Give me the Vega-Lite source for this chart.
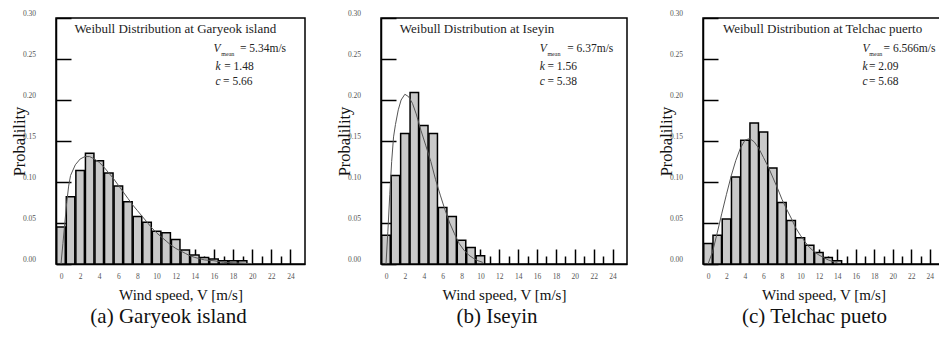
{
  "$schema": "https://vega.github.io/schema/vega-lite/v6.json",
  "background": "white",
  "padding": {"left": 10, "top": 8, "right": 0, "bottom": 0},
  "spacing": 29,
  "config": {
    "view": {"stroke": "black", "strokeWidth": 1.5},
    "font": "Liberation Serif",
    "axis": {
      "grid": false,
      "domainColor": "black",
      "domainWidth": 1.5,
      "tickColor": "black",
      "tickWidth": 1.5,
      "labelFont": "Liberation Serif",
      "labelFontSize": 7.5,
      "labelColor": "#555",
      "labelOverlap": false,
      "labelFlush": false,
      "labelBound": false,
      "titleFont": "Liberation Serif",
      "titleFontWeight": "normal",
      "titleColor": "#111",
      "zindex": 1
    },
    "title": {"font": "Liberation Serif", "fontSize": 21, "fontWeight": "normal", "color": "#111"}
  },
  "datasets": {
    "bars_a": [
      {"speed": 0, "probability": 0.045}, {"speed": 1, "probability": 0.082}, {"speed": 2, "probability": 0.114},
      {"speed": 3, "probability": 0.135}, {"speed": 4, "probability": 0.126}, {"speed": 5, "probability": 0.111},
      {"speed": 6, "probability": 0.095}, {"speed": 7, "probability": 0.076}, {"speed": 8, "probability": 0.058},
      {"speed": 9, "probability": 0.051}, {"speed": 10, "probability": 0.040}, {"speed": 11, "probability": 0.038},
      {"speed": 12, "probability": 0.030}, {"speed": 13, "probability": 0.017}, {"speed": 14, "probability": 0.011},
      {"speed": 15, "probability": 0.008}, {"speed": 16, "probability": 0.006}, {"speed": 17, "probability": 0.004},
      {"speed": 18, "probability": 0.004}, {"speed": 19, "probability": 0.004}
    ],
    "curve_a": [
      {"speed": 0, "probability": 0}, {"speed": 0.2, "probability": 0.025}, {"speed": 0.4, "probability": 0.05},
      {"speed": 0.6, "probability": 0.075}, {"speed": 0.8, "probability": 0.095}, {"speed": 1, "probability": 0.108},
      {"speed": 1.5, "probability": 0.121}, {"speed": 2, "probability": 0.128}, {"speed": 2.5, "probability": 0.131},
      {"speed": 3, "probability": 0.131}, {"speed": 3.5, "probability": 0.128}, {"speed": 4, "probability": 0.124},
      {"speed": 4.5, "probability": 0.118}, {"speed": 5, "probability": 0.111}, {"speed": 5.5, "probability": 0.104},
      {"speed": 6, "probability": 0.096}, {"speed": 6.5, "probability": 0.088}, {"speed": 7, "probability": 0.080},
      {"speed": 7.5, "probability": 0.072}, {"speed": 8, "probability": 0.065}, {"speed": 8.5, "probability": 0.058},
      {"speed": 9, "probability": 0.051}, {"speed": 9.5, "probability": 0.044}, {"speed": 10, "probability": 0.038},
      {"speed": 10.5, "probability": 0.033}, {"speed": 11, "probability": 0.028}, {"speed": 11.5, "probability": 0.023},
      {"speed": 12, "probability": 0.019}, {"speed": 12.5, "probability": 0.016}, {"speed": 13, "probability": 0.013},
      {"speed": 13.5, "probability": 0.010}, {"speed": 14, "probability": 0.008}, {"speed": 15, "probability": 0.005},
      {"speed": 16, "probability": 0.004}, {"speed": 17, "probability": 0.002}, {"speed": 18, "probability": 0.0015},
      {"speed": 19, "probability": 0.001}, {"speed": 20, "probability": 0.0005}
    ],
    "bars_b": [
      {"speed": 0, "probability": 0.035}, {"speed": 1, "probability": 0.108}, {"speed": 2, "probability": 0.159},
      {"speed": 3, "probability": 0.209}, {"speed": 4, "probability": 0.169}, {"speed": 5, "probability": 0.159},
      {"speed": 6, "probability": 0.069}, {"speed": 7, "probability": 0.058}, {"speed": 8, "probability": 0.029},
      {"speed": 9, "probability": 0.020}, {"speed": 10, "probability": 0.010}
    ],
    "curve_b": [
      {"speed": 0, "probability": 0}, {"speed": 0.2, "probability": 0.04}, {"speed": 0.4, "probability": 0.085},
      {"speed": 0.6, "probability": 0.125}, {"speed": 0.8, "probability": 0.155}, {"speed": 1, "probability": 0.17},
      {"speed": 1.3, "probability": 0.188}, {"speed": 1.6, "probability": 0.2}, {"speed": 2, "probability": 0.207},
      {"speed": 2.4, "probability": 0.204}, {"speed": 2.8, "probability": 0.196}, {"speed": 3.2, "probability": 0.183},
      {"speed": 3.7, "probability": 0.163}, {"speed": 4.2, "probability": 0.145}, {"speed": 4.75, "probability": 0.125},
      {"speed": 5.25, "probability": 0.103}, {"speed": 5.75, "probability": 0.084}, {"speed": 6.25, "probability": 0.066},
      {"speed": 6.75, "probability": 0.05}, {"speed": 7.25, "probability": 0.037}, {"speed": 7.75, "probability": 0.025},
      {"speed": 8.25, "probability": 0.017}, {"speed": 8.75, "probability": 0.011}, {"speed": 9.25, "probability": 0.007},
      {"speed": 9.75, "probability": 0.004}, {"speed": 10.25, "probability": 0.002}
    ],
    "bars_c": [
      {"speed": 0, "probability": 0.025}, {"speed": 1, "probability": 0.035}, {"speed": 2, "probability": 0.055},
      {"speed": 3, "probability": 0.106}, {"speed": 4, "probability": 0.151}, {"speed": 5, "probability": 0.172},
      {"speed": 6, "probability": 0.161}, {"speed": 7, "probability": 0.117}, {"speed": 8, "probability": 0.075},
      {"speed": 9, "probability": 0.053}, {"speed": 10, "probability": 0.032}, {"speed": 11, "probability": 0.023},
      {"speed": 12, "probability": 0.014}, {"speed": 13, "probability": 0.008}, {"speed": 14, "probability": 0.004}
    ],
    "curve_c": [
      {"speed": 0, "probability": 0}, {"speed": 0.5, "probability": 0.015}, {"speed": 1, "probability": 0.038},
      {"speed": 1.5, "probability": 0.062}, {"speed": 2, "probability": 0.085}, {"speed": 2.5, "probability": 0.107},
      {"speed": 3, "probability": 0.126}, {"speed": 3.5, "probability": 0.141}, {"speed": 4, "probability": 0.151},
      {"speed": 4.5, "probability": 0.153}, {"speed": 5, "probability": 0.149}, {"speed": 5.5, "probability": 0.141},
      {"speed": 6, "probability": 0.13}, {"speed": 6.5, "probability": 0.119}, {"speed": 7, "probability": 0.106},
      {"speed": 7.5, "probability": 0.093}, {"speed": 8, "probability": 0.079}, {"speed": 8.5, "probability": 0.067},
      {"speed": 9, "probability": 0.056}, {"speed": 9.5, "probability": 0.044}, {"speed": 10, "probability": 0.035},
      {"speed": 10.5, "probability": 0.027}, {"speed": 11, "probability": 0.02}, {"speed": 11.5, "probability": 0.015},
      {"speed": 12, "probability": 0.011}, {"speed": 12.5, "probability": 0.008}, {"speed": 13, "probability": 0.005},
      {"speed": 13.5, "probability": 0.003}, {"speed": 14, "probability": 0.002}
    ]
  },
  "hconcat": [
    {
      "width": 249, "height": 246,
      "resolve": {"axis": {"x": "independent"}},
      "title": {"text": "(a) Garyeok island", "orient": "bottom", "frame": "group", "dx": -12, "offset": 3},
      "layer": [
        {
          "data": {"name": "bars_a"},
          "mark": {"type": "bar", "orient": "vertical", "size": 8.5, "fill": "#c9c9c9", "stroke": "black", "strokeWidth": 1.5, "clip": true},
          "encoding": {
            "x": {"field": "speed", "type": "quantitative", "scale": {"domain": [0, 25], "nice": false, "zero": false},
              "axis": {"title": "Wind speed, V [m/s]", "titleFontSize": 15, "orient": "bottom",
                "values": [0,2,4,6,8,10,12,14,16,18,20,22,24], "tickSize": -15,
                "labelPadding": 23, "titlePadding": 8}},
            "y": {"field": "probability", "type": "quantitative", "scale": {"domain": [0, 0.3], "nice": false},
              "axis": {"title": "Probalility", "titleFontSize": 16.5,
                "values": [0,0.025,0.05,0.075,0.1,0.125,0.15,0.175,0.2,0.225,0.25,0.275,0.3],
                "tickSize": {"condition": {"test": "round(datum.value*40) % 2 === 1", "value": -8}, "value": -15},
                "labelExpr": "round(datum.value*40) % 2 === 0 ? format(datum.value, '.2f') : ''",
                "labelPadding": 35.5, "labelOffset": -5, "minExtent": 29, "maxExtent": 29, "titlePadding": 0}}
          }
        },
        {
          "data": {"name": "curve_a"},
          "mark": {"type": "line", "stroke": "#555", "strokeWidth": 1, "clip": true},
          "encoding": {
            "x": {"field": "speed", "type": "quantitative",
              "axis": {"orient": "bottom", "values": [1,3,5,7,9,11,13,15,17,19,21,23], "tickSize": -8, "labels": false, "domain": false, "title": null}},
            "y": {"field": "probability", "type": "quantitative"}}
        },
        {"data": {"values": [{}]}, "mark": {"type": "text", "align": "left", "baseline": "middle", "fontSize": 13, "color": "#222", "text": "Weibull Distribution at Garyeok island"},
          "encoding": {"x": {"datum": 1.4, "type": "quantitative", "axis": null}, "y": {"datum": 0.2866, "type": "quantitative"}}},
        {"data": {"values": [{}]}, "mark": {"type": "text", "align": "left", "baseline": "middle", "fontSize": 11.5, "fontStyle": "italic", "color": "#222", "text": "V"},
          "encoding": {"x": {"datum": 15.96, "type": "quantitative", "axis": null}, "y": {"datum": 0.262, "type": "quantitative"}}},
        {"data": {"values": [{}]}, "mark": {"type": "text", "align": "left", "baseline": "middle", "fontSize": 6, "color": "#222", "text": "mean"},
          "encoding": {"x": {"datum": 16.77, "type": "quantitative", "axis": null}, "y": {"datum": 0.2565, "type": "quantitative"}}},
        {"data": {"values": [{}]}, "mark": {"type": "text", "align": "left", "baseline": "middle", "fontSize": 11.5, "color": "#222", "text": "= 5.34m/s"},
          "encoding": {"x": {"datum": 18.72, "type": "quantitative", "axis": null}, "y": {"datum": 0.262, "type": "quantitative"}}},
        {"data": {"values": [{}]}, "mark": {"type": "text", "align": "left", "baseline": "middle", "fontSize": 11.5, "fontStyle": "italic", "color": "#222", "text": "k"},
          "encoding": {"x": {"datum": 16.16, "type": "quantitative", "axis": null}, "y": {"datum": 0.240, "type": "quantitative"}}},
        {"data": {"values": [{}]}, "mark": {"type": "text", "align": "left", "baseline": "middle", "fontSize": 11.5, "color": "#222", "text": "= 1.48"},
          "encoding": {"x": {"datum": 17.07, "type": "quantitative", "axis": null}, "y": {"datum": 0.240, "type": "quantitative"}}},
        {"data": {"values": [{}]}, "mark": {"type": "text", "align": "left", "baseline": "middle", "fontSize": 11.5, "fontStyle": "italic", "color": "#222", "text": "c"},
          "encoding": {"x": {"datum": 16.16, "type": "quantitative", "axis": null}, "y": {"datum": 0.222, "type": "quantitative"}}},
        {"data": {"values": [{}]}, "mark": {"type": "text", "align": "left", "baseline": "middle", "fontSize": 11.5, "color": "#222", "text": "= 5.66"},
          "encoding": {"x": {"datum": 16.95, "type": "quantitative", "axis": null}, "y": {"datum": 0.222, "type": "quantitative"}}}
      ]
    },
    {
      "width": 246, "height": 246,
      "resolve": {"axis": {"x": "independent"}},
      "title": {"text": "(b) Iseyin", "orient": "bottom", "frame": "group", "dx": -7, "offset": 3},
      "layer": [
        {
          "data": {"name": "bars_b"},
          "mark": {"type": "bar", "orient": "vertical", "size": 8.5, "fill": "#c9c9c9", "stroke": "black", "strokeWidth": 1.5, "clip": true},
          "encoding": {
            "x": {"field": "speed", "type": "quantitative", "scale": {"domain": [0, 25], "nice": false, "zero": false},
              "axis": {"title": "Wind speed, V [m/s]", "titleFontSize": 15, "orient": "bottom",
                "values": [0,2,4,6,8,10,12,14,16,18,20,22,24], "tickSize": -15,
                "labelPadding": 23, "titlePadding": 8}},
            "y": {"field": "probability", "type": "quantitative", "scale": {"domain": [0, 0.3], "nice": false},
              "axis": {"title": "Probalility", "titleFontSize": 16.5,
                "values": [0,0.025,0.05,0.075,0.1,0.125,0.15,0.175,0.2,0.225,0.25,0.275,0.3],
                "tickSize": {"condition": {"test": "round(datum.value*40) % 2 === 1", "value": -8}, "value": -15},
                "labelExpr": "round(datum.value*40) % 2 === 0 ? format(datum.value, '.2f') : ''",
                "labelPadding": 35.5, "labelOffset": -5, "minExtent": 29, "maxExtent": 29, "titlePadding": 0}}
          }
        },
        {
          "data": {"name": "curve_b"},
          "mark": {"type": "line", "stroke": "#555", "strokeWidth": 1, "clip": true},
          "encoding": {
            "x": {"field": "speed", "type": "quantitative",
              "axis": {"orient": "bottom", "values": [1,3,5,7,9,11,13,15,17,19,21,23], "tickSize": -8, "labels": false, "domain": false, "title": null}},
            "y": {"field": "probability", "type": "quantitative"}}
        },
        {"data": {"values": [{}]}, "mark": {"type": "text", "align": "left", "baseline": "middle", "fontSize": 13, "color": "#222", "text": "Weibull Distribution at Iseyin"},
          "encoding": {"x": {"datum": 1.46, "type": "quantitative", "axis": null}, "y": {"datum": 0.2866, "type": "quantitative"}}},
        {"data": {"values": [{}]}, "mark": {"type": "text", "align": "left", "baseline": "middle", "fontSize": 11.5, "fontStyle": "italic", "color": "#222", "text": "V"},
          "encoding": {"x": {"datum": 16.3, "type": "quantitative", "axis": null}, "y": {"datum": 0.262, "type": "quantitative"}}},
        {"data": {"values": [{}]}, "mark": {"type": "text", "align": "left", "baseline": "middle", "fontSize": 6, "color": "#222", "text": "mean"},
          "encoding": {"x": {"datum": 17.1, "type": "quantitative", "axis": null}, "y": {"datum": 0.2565, "type": "quantitative"}}},
        {"data": {"values": [{}]}, "mark": {"type": "text", "align": "left", "baseline": "middle", "fontSize": 11.5, "color": "#222", "text": "= 6.37m/s"},
          "encoding": {"x": {"datum": 19.2, "type": "quantitative", "axis": null}, "y": {"datum": 0.262, "type": "quantitative"}}},
        {"data": {"values": [{}]}, "mark": {"type": "text", "align": "left", "baseline": "middle", "fontSize": 11.5, "fontStyle": "italic", "color": "#222", "text": "k"},
          "encoding": {"x": {"datum": 16.3, "type": "quantitative", "axis": null}, "y": {"datum": 0.240, "type": "quantitative"}}},
        {"data": {"values": [{}]}, "mark": {"type": "text", "align": "left", "baseline": "middle", "fontSize": 11.5, "color": "#222", "text": "= 1.56"},
          "encoding": {"x": {"datum": 17.1, "type": "quantitative", "axis": null}, "y": {"datum": 0.240, "type": "quantitative"}}},
        {"data": {"values": [{}]}, "mark": {"type": "text", "align": "left", "baseline": "middle", "fontSize": 11.5, "fontStyle": "italic", "color": "#222", "text": "c"},
          "encoding": {"x": {"datum": 16.3, "type": "quantitative", "axis": null}, "y": {"datum": 0.222, "type": "quantitative"}}},
        {"data": {"values": [{}]}, "mark": {"type": "text", "align": "left", "baseline": "middle", "fontSize": 11.5, "color": "#222", "text": "= 5.38"},
          "encoding": {"x": {"datum": 17.1, "type": "quantitative", "axis": null}, "y": {"datum": 0.222, "type": "quantitative"}}}
      ]
    },
    {
      "width": 241, "height": 246,
      "resolve": {"axis": {"x": "independent"}},
      "title": {"text": "(c) Telchac pueto", "orient": "bottom", "frame": "group", "dx": -9, "offset": 3},
      "layer": [
        {
          "data": {"name": "bars_c"},
          "mark": {"type": "bar", "orient": "vertical", "size": 8.5, "fill": "#c9c9c9", "stroke": "black", "strokeWidth": 1.5, "clip": true},
          "encoding": {
            "x": {"field": "speed", "type": "quantitative", "scale": {"domain": [0, 25], "nice": false, "zero": false},
              "axis": {"title": "Wind speed, V [m/s]", "titleFontSize": 15, "orient": "bottom",
                "values": [0,2,4,6,8,10,12,14,16,18,20,22,24], "tickSize": -15,
                "labelPadding": 23, "titlePadding": 8}},
            "y": {"field": "probability", "type": "quantitative", "scale": {"domain": [0, 0.3], "nice": false},
              "axis": {"title": "Probalility", "titleFontSize": 16.5,
                "values": [0,0.025,0.05,0.075,0.1,0.125,0.15,0.175,0.2,0.225,0.25,0.275,0.3],
                "tickSize": {"condition": {"test": "round(datum.value*40) % 2 === 1", "value": -8}, "value": -15},
                "labelExpr": "round(datum.value*40) % 2 === 0 ? format(datum.value, '.2f') : ''",
                "labelPadding": 35.5, "labelOffset": -5, "minExtent": 29, "maxExtent": 29, "titlePadding": 0}}
          }
        },
        {
          "data": {"name": "curve_c"},
          "mark": {"type": "line", "stroke": "#555", "strokeWidth": 1, "clip": true},
          "encoding": {
            "x": {"field": "speed", "type": "quantitative",
              "axis": {"orient": "bottom", "values": [1,3,5,7,9,11,13,15,17,19,21,23], "tickSize": -8, "labels": false, "domain": false, "title": null}},
            "y": {"field": "probability", "type": "quantitative"}}
        },
        {"data": {"values": [{}]}, "mark": {"type": "text", "align": "left", "baseline": "middle", "fontSize": 13, "color": "#222", "text": "Weibull Distribution at Telchac puerto"},
          "encoding": {"x": {"datum": 1.62, "type": "quantitative", "axis": null}, "y": {"datum": 0.2866, "type": "quantitative"}}},
        {"data": {"values": [{}]}, "mark": {"type": "text", "align": "left", "baseline": "middle", "fontSize": 11.5, "fontStyle": "italic", "color": "#222", "text": "V"},
          "encoding": {"x": {"datum": 16.73, "type": "quantitative", "axis": null}, "y": {"datum": 0.262, "type": "quantitative"}}},
        {"data": {"values": [{}]}, "mark": {"type": "text", "align": "left", "baseline": "middle", "fontSize": 6, "color": "#222", "text": "mean"},
          "encoding": {"x": {"datum": 17.46, "type": "quantitative", "axis": null}, "y": {"datum": 0.2565, "type": "quantitative"}}},
        {"data": {"values": [{}]}, "mark": {"type": "text", "align": "left", "baseline": "middle", "fontSize": 11.5, "color": "#222", "text": "= 6.566m/s"},
          "encoding": {"x": {"datum": 19.0, "type": "quantitative", "axis": null}, "y": {"datum": 0.262, "type": "quantitative"}}},
        {"data": {"values": [{}]}, "mark": {"type": "text", "align": "left", "baseline": "middle", "fontSize": 11.5, "fontStyle": "italic", "color": "#222", "text": "k"},
          "encoding": {"x": {"datum": 16.73, "type": "quantitative", "axis": null}, "y": {"datum": 0.240, "type": "quantitative"}}},
        {"data": {"values": [{}]}, "mark": {"type": "text", "align": "left", "baseline": "middle", "fontSize": 11.5, "color": "#222", "text": "= 2.09"},
          "encoding": {"x": {"datum": 17.42, "type": "quantitative", "axis": null}, "y": {"datum": 0.240, "type": "quantitative"}}},
        {"data": {"values": [{}]}, "mark": {"type": "text", "align": "left", "baseline": "middle", "fontSize": 11.5, "fontStyle": "italic", "color": "#222", "text": "c"},
          "encoding": {"x": {"datum": 16.73, "type": "quantitative", "axis": null}, "y": {"datum": 0.222, "type": "quantitative"}}},
        {"data": {"values": [{}]}, "mark": {"type": "text", "align": "left", "baseline": "middle", "fontSize": 11.5, "color": "#222", "text": "= 5.68"},
          "encoding": {"x": {"datum": 17.42, "type": "quantitative", "axis": null}, "y": {"datum": 0.222, "type": "quantitative"}}}
      ]
    }
  ]
}
